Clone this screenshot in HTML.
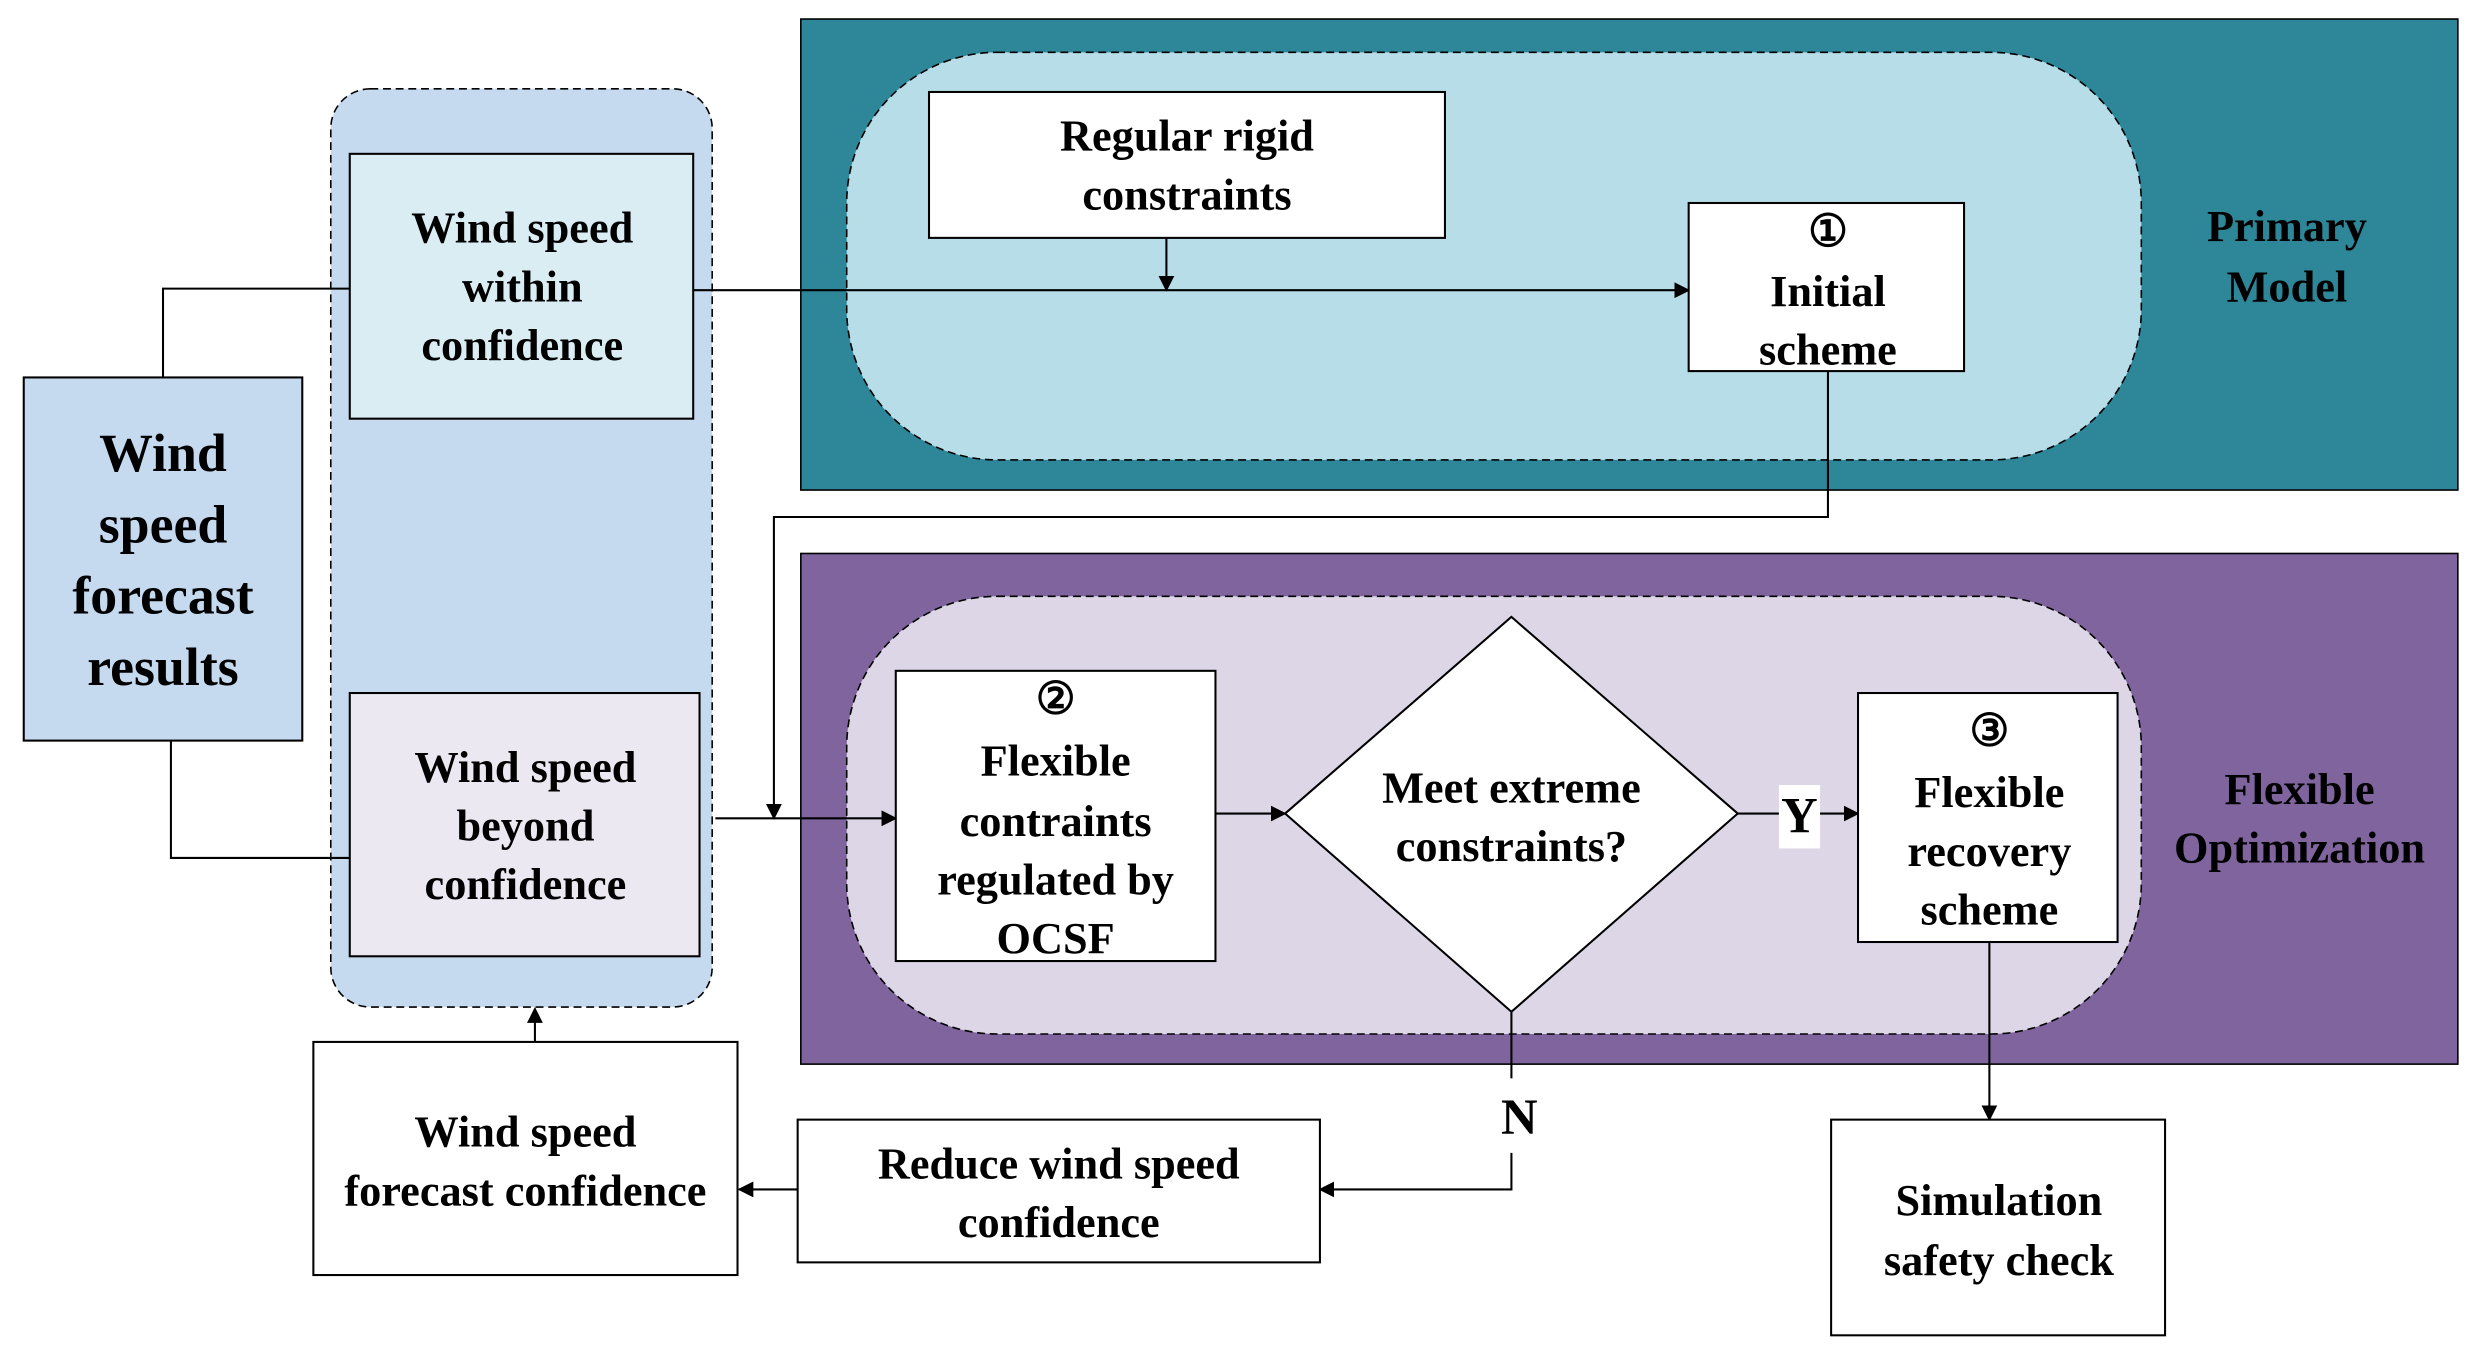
<!DOCTYPE html>
<html><head><meta charset="utf-8"><style>html,body{margin:0;padding:0;background:#fff}svg{display:block}</style></head>
<body>
<svg width="2480" height="1348" viewBox="0 0 1567 850" preserveAspectRatio="none" xmlns="http://www.w3.org/2000/svg" font-family="Liberation Serif, serif" font-weight="bold" font-size="28" text-anchor="middle">
<defs><marker id="a" markerWidth="10" markerHeight="10" refX="9" refY="5" orient="auto" markerUnits="userSpaceOnUse"><path d="M0,0 L10,5 L0,10 z" fill="#000"/></marker></defs>
<rect x="506" y="12" width="1047" height="297" fill="#2e8799" stroke="#000" stroke-width="1"/>
<rect x="535" y="33" width="818" height="257" rx="95" fill="#b7dde8" stroke="#000" stroke-dasharray="5,3"/>
<rect x="506" y="349" width="1047" height="322" fill="#7f649e" stroke="#000" stroke-width="1"/>
<rect x="535" y="376" width="818" height="276" rx="95" fill="#ddd6e6" stroke="#000" stroke-dasharray="5,3"/>
<rect x="209" y="56" width="241" height="579" rx="25" fill="#c5d9ef" stroke="#000" stroke-dasharray="5,3"/>
<g fill="none" stroke="#000" stroke-width="1.3">
<path d="M103,238 V182 H221"/>
<path d="M108,467 V541 H221"/>
<path d="M438,183 H1067" marker-end="url(#a)"/>
<path d="M737,150 V183" marker-end="url(#a)"/>
<path d="M1155,234 V326 H489 V516" marker-end="url(#a)"/>
<path d="M452,516 H566" marker-end="url(#a)"/>
<path d="M768,513 H812" marker-end="url(#a)"/>
<path d="M1098,513 H1174" marker-end="url(#a)"/>
<path d="M955,638 V680"/>
<path d="M955,727 V750 H834" marker-end="url(#a)"/>
<path d="M504,750 H467" marker-end="url(#a)"/>
<path d="M338,675 V636" marker-end="url(#a)"/>
<path d="M1257,594 V706" marker-end="url(#a)"/>
</g>
<g stroke="#000" stroke-width="1.3">
<rect x="15" y="238" width="176" height="229" fill="#c5d9ef"/>
<rect x="221" y="97" width="217" height="167" fill="#daedf3"/>
<rect x="221" y="437" width="221" height="166" fill="#ece8f1"/>
<rect x="587" y="58" width="326" height="92" fill="#fff"/>
<rect x="1067" y="128" width="174" height="106" fill="#fff"/>
<rect x="566" y="423" width="202" height="183" fill="#fff"/>
<path d="M955,389 L1098,513 L955,638 L812,513 z" fill="#fff"/>
<rect x="1174" y="437" width="164" height="157" fill="#fff"/>
<rect x="198" y="657" width="268" height="147" fill="#fff"/>
<rect x="504" y="706" width="330" height="90" fill="#fff"/>
<rect x="1157" y="706" width="211" height="136" fill="#fff"/>
</g>
<rect x="1124" y="495" width="26" height="40" fill="#fff"/>
<text font-size="34"><tspan x="103" y="297">Wind</tspan><tspan x="103" y="342">speed</tspan><tspan x="103" y="387">forecast</tspan><tspan x="103" y="432">results</tspan></text>
<text><tspan x="330" y="153">Wind speed</tspan><tspan x="330" y="190">within</tspan><tspan x="330" y="227">confidence</tspan></text>
<text><tspan x="332" y="493">Wind speed</tspan><tspan x="332" y="530">beyond</tspan><tspan x="332" y="567">confidence</tspan></text>
<text><tspan x="750" y="95">Regular rigid</tspan><tspan x="750" y="132">constraints</tspan></text>
<text><tspan x="1155" y="155">①</tspan><tspan x="1155" y="193">Initial</tspan><tspan x="1155" y="230">scheme</tspan></text>
<text><tspan x="1445" y="152">Primary</tspan><tspan x="1445" y="190">Model</tspan></text>
<text><tspan x="667" y="450">②</tspan><tspan x="667" y="489">Flexible</tspan><tspan x="667" y="527">contraints</tspan><tspan x="667" y="564">regulated by</tspan><tspan x="667" y="601">OCSF</tspan></text>
<text><tspan x="955" y="506">Meet extreme</tspan><tspan x="955" y="543">constraints?</tspan></text>
<text x="1137" y="525" font-size="32">Y</text>
<text><tspan x="1257" y="470">③</tspan><tspan x="1257" y="509">Flexible</tspan><tspan x="1257" y="546">recovery</tspan><tspan x="1257" y="583">scheme</tspan></text>
<text><tspan x="1453" y="507">Flexible</tspan><tspan x="1453" y="544">Optimization</tspan></text>
<text x="960" y="715" font-size="32">N</text>
<text><tspan x="332" y="723">Wind speed</tspan><tspan x="332" y="760">forecast confidence</tspan></text>
<text><tspan x="669" y="743">Reduce wind speed</tspan><tspan x="669" y="780">confidence</tspan></text>
<text><tspan x="1263" y="766">Simulation</tspan><tspan x="1263" y="804">safety check</tspan></text>
</svg>
</body></html>
